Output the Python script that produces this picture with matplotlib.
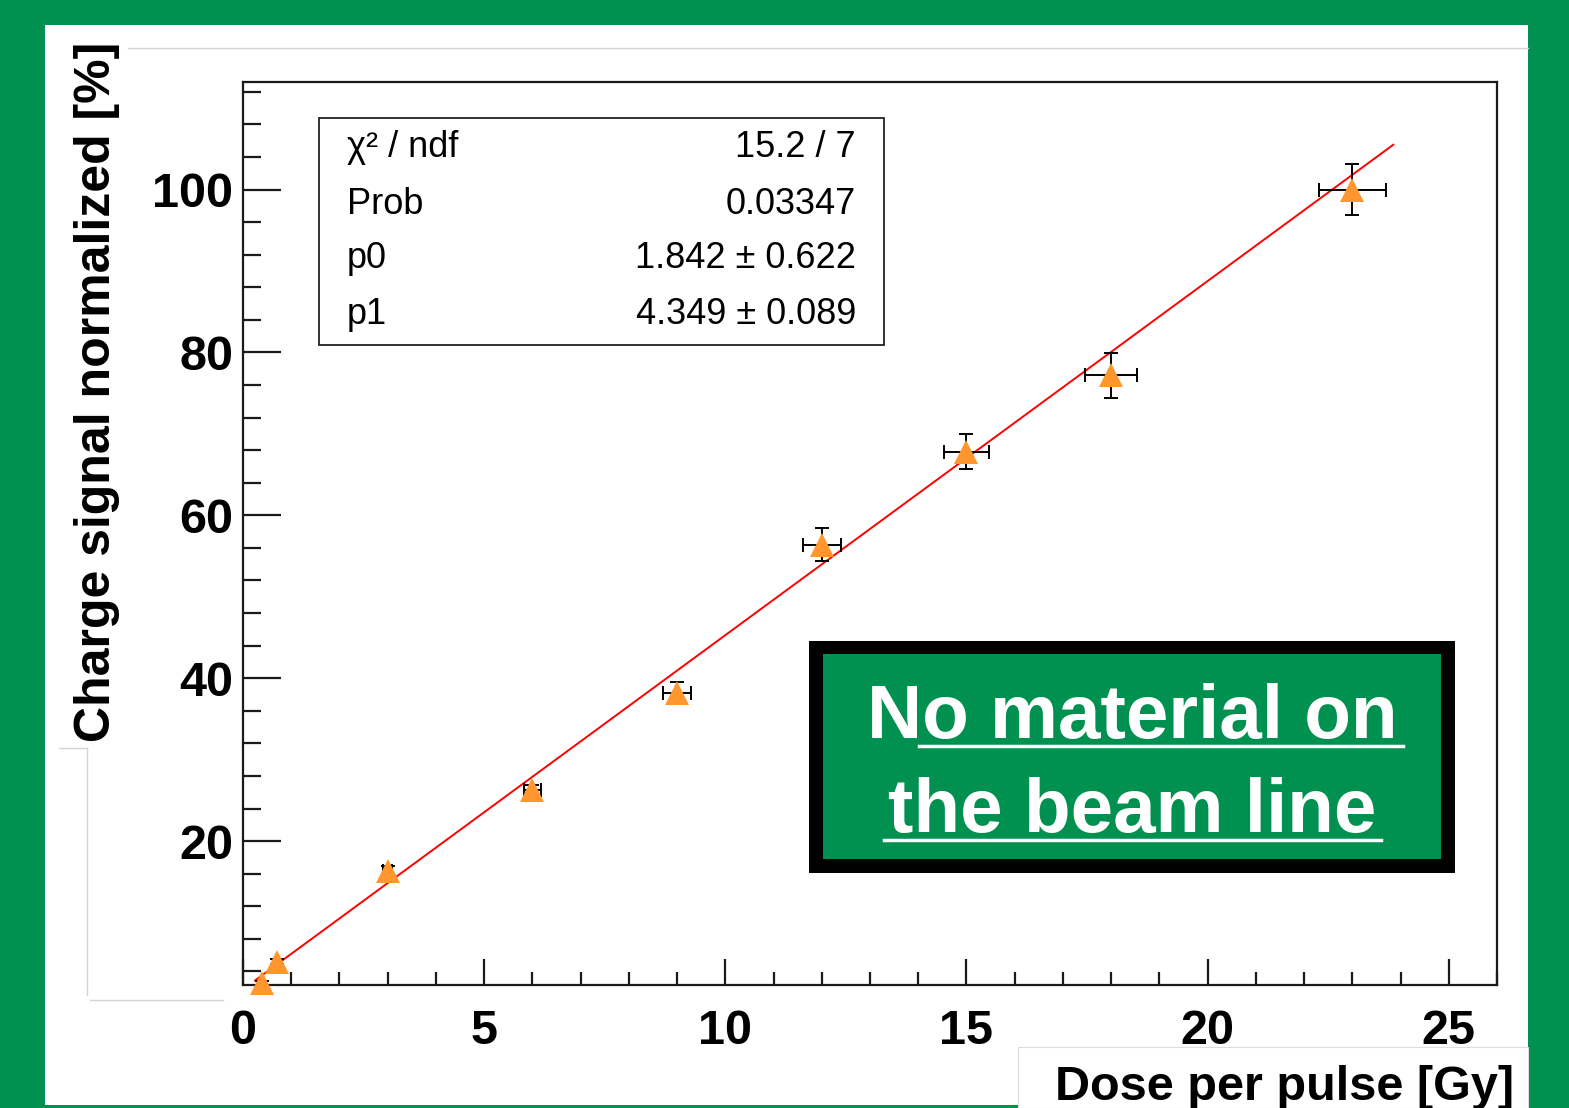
import numpy as np
import matplotlib
matplotlib.use("Agg")
import matplotlib.pyplot as plt
from matplotlib.patches import Rectangle
from matplotlib.lines import Line2D
from matplotlib.ticker import FixedLocator

plt.rcParams["font.family"] = ["Liberation Sans", "DejaVu Sans"]

# Datos
dosis = [0.4, 0.7, 3.0, 6.0, 9.0, 12.0, 15.0, 18.0, 23.0]
carga = [2.6, 5.2, 16.3, 26.3, 38.2, 56.4, 67.8, 77.2, 100.0]
err_dosis = [0.01, 0.02, 0.09, 0.18, 0.29, 0.39, 0.46, 0.54, 0.69]
err_carga = [0.2, 0.3, 0.6, 0.6, 1.4, 2.0, 2.15, 2.75, 3.15]

# recta del ajuste (extremos leidos)
ajuste_x = [0.25, 23.85]
ajuste_y = [2.9, 105.5]

# caja de estadisticas
stats_nombres = ["\u03c7\u00b2 / ndf", "Prob", "p0", "p1"]
stats_valores = ["15.2 / 7", "0.03347", "1.842 \u00b1 0.622", "4.349 \u00b1 0.089"]

ticks_x = [0, 5, 10, 15, 20, 25]
ticks_y = [20, 40, 60, 80, 100]

verde = "#00904f"
naranja = "#ff962e"

W, H = 1569, 1108
fig = plt.figure(figsize=(W / 100, H / 100), dpi=100, facecolor=verde)


def fx(px):
    return px / W


def fy(py):
    return 1 - py / H


# panel blanco
fig.patches.append(Rectangle((fx(45), fy(1105)), fx(1528) - fx(45), fy(25) - fy(1105),
                             transform=fig.transFigure, facecolor="white", edgecolor="none", zorder=-3))
# parche blanco de la etiqueta x
fig.patches.append(Rectangle((fx(1018), 0), fx(1528) - fx(1018), fy(1047),
                             transform=fig.transFigure, facecolor="white", edgecolor="#dcdcdc",
                             linewidth=0.8, zorder=-2))
# lineas tenues de recorte
for xs, ys in [([128, 1528], [48, 48]), ([87, 87], [748, 995]), ([59, 87], [748, 748]),
               ([90, 223], [1000, 1000])]:
    fig.lines.append(Line2D([fx(x) for x in xs], [fy(y) for y in ys], transform=fig.transFigure,
                            color="#d4d4d4", linewidth=1.0, zorder=-1))

ax = fig.add_axes([fx(243), fy(985), fx(1497) - fx(243), fy(82) - fy(985)])
ax.set_facecolor("white")
ax.set_xlim(0, 26)
ax.set_ylim(2.34, 113.2)

ax.plot(ajuste_x, ajuste_y, color="red", linewidth=1.4, zorder=2)
ax.errorbar(dosis, carga, xerr=err_dosis, yerr=err_carga, fmt="none", ecolor="black",
            elinewidth=1.4, capsize=5, capthick=1.4, zorder=3, clip_on=False)
ax.plot(dosis, carga, linestyle="none", marker="^", markersize=17, color=naranja,
        markeredgewidth=0, zorder=4, clip_on=False)

# ejes estilo ROOT
ax.xaxis.set_major_locator(FixedLocator(ticks_x))
ax.xaxis.set_minor_locator(FixedLocator([v for v in range(0, 27) if v % 5 != 0]))
ax.yaxis.set_major_locator(FixedLocator(ticks_y))
ax.yaxis.set_minor_locator(FixedLocator([v for v in range(4, 113, 4) if v % 20 != 0]))
ax.set_xticklabels([str(v) for v in ticks_x])
ax.set_yticklabels([str(v) for v in ticks_y])
ax.tick_params(axis="both", which="both", direction="in", top=False, right=False,
               width=1.6, color="#1a1a1a", labelsize=35)
ax.tick_params(axis="y", which="major", length=27, pad=7)
ax.tick_params(axis="y", which="minor", length=13)
ax.tick_params(axis="x", which="major", length=19, pad=17)
ax.tick_params(axis="x", which="minor", length=9.5)
for etiqueta in ax.get_xticklabels() + ax.get_yticklabels():
    etiqueta.set_fontweight("bold")
for lado in ax.spines.values():
    lado.set_linewidth(1.6)
    lado.set_color("#1a1a1a")

# caja de estadisticas
ax.add_patch(Rectangle((0.0606, 0.7088), 0.5112 - 0.0606, 0.9601 - 0.7088, transform=ax.transAxes,
                       facecolor="white", edgecolor="#222222", linewidth=1.3, zorder=5))
filas_y = [0.928, 0.8638, 0.804, 0.742]
for nombre, valor, yy in zip(stats_nombres, stats_valores, filas_y):
    ax.text(0.0829, yy, nombre, transform=ax.transAxes, fontsize=26, ha="left", va="center", zorder=6)
    ax.text(0.4888, yy, valor, transform=ax.transAxes, fontsize=26, ha="right", va="center", zorder=6)

# recuadro verde con texto
ax.add_patch(Rectangle((0.4514, 0.124), 0.9665 - 0.4514, 0.381 - 0.124, transform=ax.transAxes,
                       facecolor="black", edgecolor="none", zorder=5))
ax.add_patch(Rectangle((0.4629, 0.1395), 0.9553 - 0.4629, 0.3665 - 0.1395, transform=ax.transAxes,
                       facecolor=verde, edgecolor="none", zorder=6))
ax.text(0.7089, 0.2735, "No material on", transform=ax.transAxes, fontsize=55, fontweight="bold",
        color="white", ha="center", va="baseline", zorder=7)
ax.text(0.7089, 0.1694, "the beam line", transform=ax.transAxes, fontsize=55, fontweight="bold",
        color="white", ha="center", va="baseline", zorder=7)
ax.plot([0.539, 0.925], [0.2647, 0.2647], transform=ax.transAxes, color="white", linewidth=2.5, zorder=7)
ax.plot([0.5112, 0.9075], [0.1606, 0.1606], transform=ax.transAxes, color="white", linewidth=2.5, zorder=7)

# titulos de los ejes
fig.text(fx(97), fy(392), "Charge signal normalized [%]", rotation=90, ha="center", va="center",
         fontsize=36, fontweight="bold")
fig.text(fx(1514), fy(1100), "Dose per pulse [Gy]", ha="right", va="baseline",
         fontsize=35, fontweight="bold")

fig.savefig("out.png", dpi=100, facecolor=verde)
